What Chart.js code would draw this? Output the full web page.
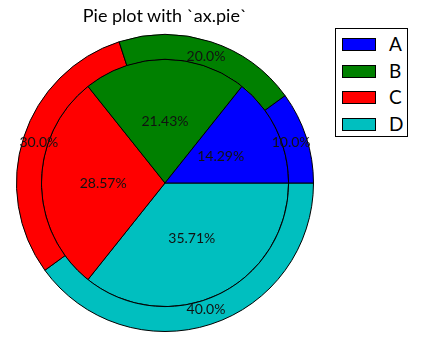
<!DOCTYPE html>
<html>
<head>
<meta charset="utf-8">
<script src="https://cdn.jsdelivr.net/npm/chart.js@4/dist/chart.umd.min.js"></script>
<style>
  body { margin: 0; background: #fff; }
  #wrap { position: relative; width: 426px; height: 337px; }
  #title { position: absolute; left: 0; width: 330px; top: 4px; text-align: center;
           font-family: Lato, sans-serif; font-size: 18px; color: #000; }
  #legend { position: absolute; left: 335px; top: 28px; width: 71px; height: 107px;
            border: 1px solid #000; box-sizing: content-box; background: #fff; }
  .item { position: absolute; left: 6px; height: 16px; font-family: Lato, sans-serif;
          font-size: 19px; line-height: 16px; }
  .patch { position: absolute; left: 0; top: 2px; width: 32px; height: 11px; border: 1px solid #000; }
  .lab { position: absolute; left: 47px; top: 0px; }
</style>
</head>
<body>
<div id="wrap">
  <canvas id="pie" width="426" height="337"></canvas>
  <div id="title">Pie plot with `ax.pie`</div>
  <div id="legend"></div>
</div>
<script>
// 데이터
const labels = ['A', 'B', 'C', 'D'];
const outerValues = [1, 2, 3, 4];
const innerValues = [2, 3, 4, 5];
const colors = ['#0000ff', '#008000', '#ff0000', '#00bfbf'];

// matplotlib은 3시 방향에서 반시계로 그리므로 순서를 뒤집어 시계방향으로 그린다
const rev = arr => arr.slice().reverse();

// 범례 (HTML)
const legend = document.getElementById('legend');
labels.forEach((name, i) => {
    const item = document.createElement('div');
    item.className = 'item';
    item.style.top = (7 + i * 26.5) + 'px';
    item.innerHTML = `<div class="patch" style="background:${colors[i]}"></div><span class="lab">${name}</span>`;
    legend.appendChild(item);
});

// 퍼센트 라벨 그리기
const pctLabels = {
    id: 'pctLabels',
    afterDatasetsDraw(chart) {
        const ctx = chart.ctx;
        ctx.save();
        ctx.font = '14px Lato, sans-serif';
        ctx.fillStyle = '#111';
        ctx.textAlign = 'center';
        ctx.textBaseline = 'middle';
        chart.data.datasets.forEach((ds, di) => {
            const meta = chart.getDatasetMeta(di);
            const total = ds.data.reduce((a, b) => a + b, 0);
            meta.data.forEach((arc, i) => {
                const p = arc.getProps(['x', 'y', 'startAngle', 'endAngle', 'outerRadius'], true);
                const mid = (p.startAngle + p.endAngle) / 2;
                const r = p.outerRadius * ds.pctDistance;
                const pct = ds.data[i] / total * 100;
                const txt = pct.toFixed(ds.decimals) + '%';
                ctx.fillText(txt, p.x + Math.cos(mid) * r, p.y + Math.sin(mid) * r);
            });
        });
        ctx.restore();
    }
};

const ctx = document.getElementById('pie').getContext('2d');
new Chart(ctx, {
    type: 'pie',
    data: {
        labels: rev(labels),
        datasets: [
            {
                data: rev(outerValues),
                backgroundColor: rev(colors),
                borderColor: '#000',
                borderWidth: 1,
                weight: 25,
                pctDistance: 0.893,
                decimals: 1
            },
            {
                data: rev(innerValues),
                backgroundColor: rev(colors),
                borderColor: '#000',
                borderWidth: 1,
                weight: 124,
                pctDistance: 0.5,
                decimals: 2
            }
        ]
    },
    options: {
        responsive: false,
        animation: false,
        rotation: 90,
        layout: { padding: { left: 16, top: 34, right: 112, bottom: 5 } },
        plugins: {
            legend: { display: false },
            title: { display: false },
            tooltip: { enabled: false }
        },
        elements: { arc: { borderAlign: 'center' } }
    },
    plugins: [pctLabels]
});
</script>
</body>
</html>
